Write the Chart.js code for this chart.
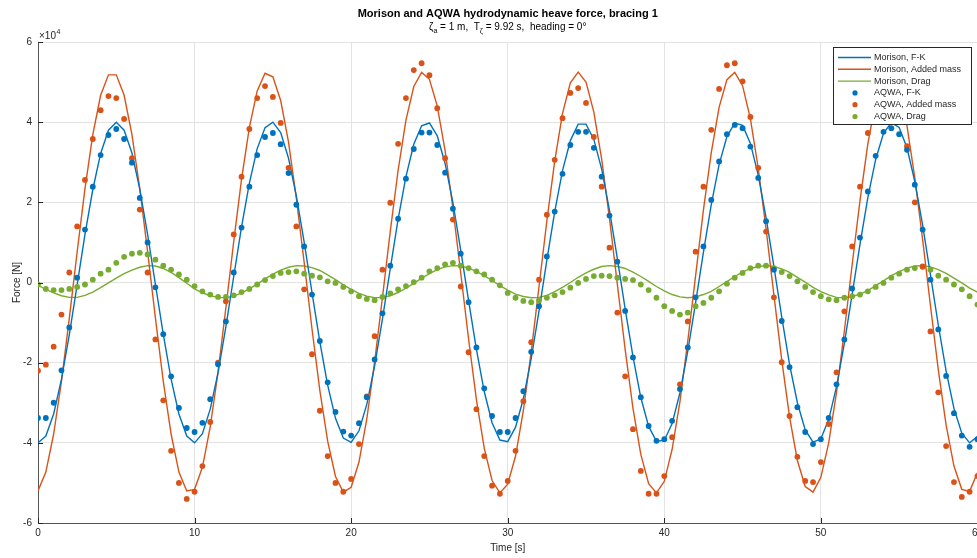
<!DOCTYPE html>
<html>
<head>
<meta charset="utf-8">
<script src="https://cdn.jsdelivr.net/npm/chart.js@4.4.1/dist/chart.umd.min.js"></script>
<style>
  html, body { margin: 0; padding: 0; background: #fff; overflow: hidden; }
  #wrap { position: relative; width: 987px; height: 558px; }
</style>
</head>
<body>
<div id="wrap"><canvas id="heaveChart"></canvas></div>
<script>
// time [s], sampled every 0.5 s
const time = [
  0, 0.5, 1, 1.5, 2, 2.5, 3, 3.5, 4, 4.5, 5, 5.5, 6, 6.5, 7, 7.5, 8, 8.5, 9, 9.5,
  10, 10.5, 11, 11.5, 12, 12.5, 13, 13.5, 14, 14.5, 15, 15.5, 16, 16.5, 17, 17.5, 18, 18.5, 19, 19.5,
  20, 20.5, 21, 21.5, 22, 22.5, 23, 23.5, 24, 24.5, 25, 25.5, 26, 26.5, 27, 27.5, 28, 28.5, 29, 29.5,
  30, 30.5, 31, 31.5, 32, 32.5, 33, 33.5, 34, 34.5, 35, 35.5, 36, 36.5, 37, 37.5, 38, 38.5, 39, 39.5,
  40, 40.5, 41, 41.5, 42, 42.5, 43, 43.5, 44, 44.5, 45, 45.5, 46, 46.5, 47, 47.5, 48, 48.5, 49, 49.5,
  50, 50.5, 51, 51.5, 52, 52.5, 53, 53.5, 54, 54.5, 55, 55.5, 56, 56.5, 57, 57.5, 58, 58.5, 59, 59.5,
  60
];

// forces in units of 1e4 N
const morisonFK = [
  -4.00, -3.83, -3.28, -2.41, -1.30, -0.06, 1.20, 2.32, 3.22, 3.80,
  4.00, 3.80, 3.23, 2.33, 1.20, -0.05, -1.29, -2.41, -3.28, -3.83,
  -4.00, -3.77, -3.16, -2.25, -1.10, 0.15, 1.39, 2.48, 3.34, 3.86,
  4.00, 3.74, 3.10, 2.16, 1.01, -0.25, -1.48, -2.56, -3.39, -3.88,
  -3.99, -3.70, -3.04, -2.08, -0.91, 0.35, 1.58, 2.64, 3.45, 3.91,
  3.98, 3.66, 2.97, 1.99, 0.80, -0.45, -1.67, -2.72, -3.50, -3.93,
  -3.97, -3.61, -2.90, -1.90, -0.71, 0.56, 1.76, 2.79, 3.54, 3.95,
  3.95, 3.57, 2.83, 1.80, 0.60, -0.66, -1.85, -2.87, -3.59, -3.96,
  -3.94, -3.52, -2.75, -1.71, -0.50, 0.76, 1.94, 2.94, 3.64, 3.98,
  3.92, 3.47, 2.68, 1.62, 0.40, -0.86, -2.04, -3.00, -3.68, -3.98,
  -3.90, -3.42, -2.60, -1.52, -0.29, 0.96, 2.12, 3.07, 3.72, 3.99,
  3.87, 3.36, 2.52, 1.43, 0.19, -1.06, -2.21, -3.14, -3.76, -4.00,
  -3.84
];

const morisonAddedMass = [
  -5.20, -4.73, -3.78, -2.46, -0.89, 0.76, 2.34, 3.69, 4.67, 5.18,
  5.18, 4.67, 3.69, 2.34, 0.77, -0.89, -2.46, -3.78, -4.73, -5.20,
  -5.16, -4.61, -3.60, -2.23, -0.63, 1.02, 2.58, 3.87, 4.78, 5.22,
  5.13, 4.54, 3.50, 2.10, 0.50, -1.16, -2.69, -3.96, -4.84, -5.23,
  -5.11, -4.48, -3.40, -1.98, -0.37, 1.28, 2.80, 4.05, 4.89, 5.24,
  5.07, 4.40, 3.29, 1.85, 0.23, -1.41, -2.92, -4.13, -4.94, -5.25,
  -5.03, -4.33, -3.19, -1.73, -0.10, 1.54, 3.02, 4.22, 4.98, 5.25,
  5.00, 4.25, 3.08, 1.60, -0.04, -1.67, -3.14, -4.29, -5.02, -5.25,
  -4.96, -4.16, -2.97, -1.46, 0.17, 1.81, 3.24, 4.37, 5.06, 5.24,
  4.91, 4.08, 2.85, 1.34, -0.31, -1.93, -3.35, -4.44, -5.09, -5.23,
  -4.86, -4.00, -2.74, -1.21, 0.45, 2.05, 3.46, 4.52, 5.12, 5.22,
  4.80, 3.91, 2.61, 1.07, -0.58, -2.18, -3.56, -4.58, -5.16, -5.21,
  -4.75
];

const morisonDrag = [
  -0.07, -0.17, -0.26, -0.33, -0.37, -0.37, -0.32, -0.24, -0.13, -0.01,
  0.11, 0.22, 0.31, 0.38, 0.42, 0.41, 0.35, 0.25, 0.12, -0.02,
  -0.16, -0.26, -0.33, -0.37, -0.38, -0.34, -0.26, -0.16, -0.04, 0.09,
  0.21, 0.31, 0.38, 0.42, 0.41, 0.37, 0.30, 0.19, 0.07, -0.06,
  -0.17, -0.27, -0.34, -0.38, -0.37, -0.33, -0.25, -0.14, -0.02, 0.11,
  0.22, 0.32, 0.39, 0.42, 0.41, 0.36, 0.28, 0.17, 0.05, -0.08,
  -0.19, -0.29, -0.35, -0.38, -0.37, -0.32, -0.23, -0.12, 0.00, 0.13,
  0.24, 0.33, 0.40, 0.42, 0.40, 0.35, 0.26, 0.15, 0.03, -0.10,
  -0.21, -0.30, -0.36, -0.38, -0.36, -0.30, -0.22, -0.10, 0.02, 0.15,
  0.26, 0.35, 0.40, 0.42, 0.40, 0.34, 0.25, 0.13, 0.01, -0.12,
  -0.23, -0.31, -0.37, -0.38, -0.35, -0.29, -0.20, -0.08, 0.04, 0.17,
  0.27, 0.36, 0.41, 0.42, 0.39, 0.32, 0.23, 0.11, -0.01, -0.14,
  -0.24
];

const aqwaFK = [
  -3.38, -3.38, -3.00, -2.19, -1.12, 0.12, 1.32, 2.39, 3.18, 3.68,
  3.83, 3.58, 2.99, 2.11, 1.00, -0.12, -1.29, -2.34, -3.13, -3.63,
  -3.73, -3.50, -2.91, -2.04, -0.97, 0.25, 1.37, 2.39, 3.18, 3.63,
  3.73, 3.45, 2.73, 1.94, 0.90, -0.30, -1.46, -2.49, -3.23, -3.72,
  -3.82, -3.51, -2.86, -1.92, -0.77, 0.42, 1.59, 2.59, 3.33, 3.74,
  3.74, 3.43, 2.74, 1.84, 0.72, -0.49, -1.62, -2.64, -3.33, -3.73,
  -3.73, -3.38, -2.71, -1.73, -0.59, 0.65, 1.77, 2.71, 3.43, 3.76,
  3.76, 3.36, 2.64, 1.67, 0.52, -0.71, -1.87, -2.86, -3.58, -3.95,
  -3.91, -3.45, -2.66, -1.62, -0.37, 0.90, 2.06, 3.02, 3.70, 3.93,
  3.85, 3.39, 2.61, 1.53, 0.32, -0.96, -2.11, -3.11, -3.73, -4.03,
  -3.91, -3.38, -2.54, -1.42, -0.15, 1.12, 2.27, 3.16, 3.76, 3.85,
  3.70, 3.31, 2.44, 1.32, 0.07, -1.17, -2.33, -3.26, -3.82, -4.10,
  -3.91
];

const aqwaAddedMass = [
  -2.20, -2.05, -1.60, -0.80, 0.25, 1.40, 2.56, 3.58, 4.30, 4.65,
  4.60, 4.08, 3.10, 1.82, 0.25, -1.42, -2.94, -4.20, -5.00, -5.40,
  -5.22, -4.58, -3.48, -2.00, -0.47, 1.20, 2.64, 3.83, 4.60, 4.90,
  4.63, 3.98, 2.86, 1.40, -0.17, -1.79, -3.20, -4.33, -5.00, -5.22,
  -4.90, -4.03, -2.84, -1.34, 0.32, 1.99, 3.46, 4.60, 5.30, 5.47,
  5.17, 4.35, 3.10, 1.57, -0.10, -1.74, -3.16, -4.33, -5.07, -5.27,
  -4.95, -4.20, -2.96, -1.49, 0.07, 1.69, 3.06, 4.10, 4.73, 4.85,
  4.48, 3.63, 2.39, 0.87, -0.75, -2.34, -3.66, -4.70, -5.27, -5.27,
  -4.83, -3.86, -2.54, -0.97, 0.77, 2.39, 3.81, 4.83, 5.42, 5.47,
  5.02, 4.13, 2.86, 1.27, -0.37, -1.99, -3.33, -4.35, -4.95, -4.98,
  -4.48, -3.53, -2.24, -0.72, 0.90, 2.39, 3.73, 4.65, 5.15, 5.15,
  4.55, 3.40, 2.00, 0.40, -1.22, -2.74, -4.08, -4.98, -5.35, -5.22,
  -4.83
];

const aqwaDrag = [
  -0.05, -0.16, -0.19, -0.19, -0.16, -0.11, -0.05, 0.07, 0.22, 0.32,
  0.49, 0.64, 0.72, 0.74, 0.70, 0.57, 0.42, 0.32, 0.20, 0.07,
  -0.09, -0.22, -0.30, -0.36, -0.36, -0.32, -0.24, -0.16, -0.05, 0.06,
  0.16, 0.24, 0.26, 0.28, 0.22, 0.17, 0.13, 0.03, -0.01, -0.11,
  -0.22, -0.34, -0.41, -0.44, -0.36, -0.27, -0.17, -0.09, 0.01, 0.12,
  0.28, 0.36, 0.45, 0.49, 0.42, 0.36, 0.28, 0.20, 0.07, -0.07,
  -0.26, -0.38, -0.46, -0.49, -0.44, -0.38, -0.32, -0.24, -0.13, -0.01,
  0.09, 0.16, 0.17, 0.16, 0.12, 0.09, 0.06, -0.05, -0.19, -0.38,
  -0.59, -0.71, -0.80, -0.75, -0.59, -0.51, -0.38, -0.22, -0.03, 0.12,
  0.24, 0.36, 0.42, 0.42, 0.36, 0.26, 0.16, 0.03, -0.11, -0.24,
  -0.34, -0.42, -0.44, -0.38, -0.34, -0.30, -0.22, -0.11, -0.01, 0.12,
  0.22, 0.32, 0.36, 0.39, 0.32, 0.17, 0.07, -0.05, -0.17, -0.34,
  -0.55
];

const xTicks = [0, 10, 20, 30, 40, 50, 60];
const yTicks = [-6, -4, -2, 0, 2, 4, 6];

const blue = 'rgb(0, 114, 189)';
const orange = 'rgb(217, 83, 25)';
const green = 'rgb(119, 172, 48)';
const axisColor = '#262626';
const fontFamily = '"Liberation Sans", Arial, Helvetica, sans-serif';

function points(values) {
  return values.map((v, i) => ({ x: time[i], y: v }));
}

function lineSet(label, values, color) {
  return {
    label: label,
    data: points(values),
    borderColor: color,
    backgroundColor: color,
    borderWidth: 1.4,
    pointRadius: 0,
    tension: 0,
    order: 1
  };
}

function dotSet(label, values, color) {
  return {
    label: label,
    data: points(values),
    showLine: false,
    borderColor: color,
    backgroundColor: color,
    pointRadius: 2.9,
    pointBorderWidth: 0,
    order: 0
  };
}

const data = {
  datasets: [
    lineSet('Morison, F-K', morisonFK, blue),
    lineSet('Morison, Added mass', morisonAddedMass, orange),
    lineSet('Morison, Drag', morisonDrag, green),
    dotSet('AQWA, F-K', aqwaFK, blue),
    dotSet('AQWA, Added mass', aqwaAddedMass, orange),
    dotSet('AQWA, Drag', aqwaDrag, green)
  ]
};

// titles, exponent label, inward ticks and the boxed legend
const decor = {
  id: 'decor',
  afterDraw(chart) {
    const { ctx, chartArea: a, scales: { x, y } } = chart;
    ctx.save();

    ctx.strokeStyle = axisColor;
    ctx.lineWidth = 1;
    ctx.beginPath();
    xTicks.forEach(v => {
      const px = Math.round(x.getPixelForValue(v)) + 0.5;
      ctx.moveTo(px, a.bottom);
      ctx.lineTo(px, a.bottom - 5);
    });
    yTicks.forEach(v => {
      const py = Math.round(y.getPixelForValue(v)) + 0.5;
      ctx.moveTo(a.left, py);
      ctx.lineTo(a.left + 5, py);
    });
    ctx.stroke();

    // x10^4 multiplier
    ctx.fillStyle = axisColor;
    ctx.textBaseline = 'alphabetic';
    ctx.textAlign = 'left';
    ctx.font = '10px ' + fontFamily;
    ctx.fillText('\u00d710', a.left + 1, a.top - 3);
    const w10 = ctx.measureText('\u00d710').width;
    ctx.font = '7px ' + fontFamily;
    ctx.fillText('4', a.left + 1 + w10 + 0.5, a.top - 8);

    // title and subtitle
    const cx = (a.left + a.right) / 2;
    ctx.textAlign = 'center';
    ctx.textBaseline = 'middle';
    ctx.fillStyle = '#000';
    ctx.font = 'bold 11px ' + fontFamily;
    ctx.fillText('Morison and AQWA hydrodynamic heave force, bracing 1', cx, 14);

    const parts = [
      ['\u03b6', 0], ['a', 1], [' = 1 m,  T', 0], ['\u03b6', 1],
      [' = 9.92 s,  heading = 0\u00b0', 0]
    ];
    const big = '10px ' + fontFamily;
    const small = '7px ' + fontFamily;
    let total = 0;
    parts.forEach(p => { ctx.font = p[1] ? small : big; total += ctx.measureText(p[0]).width; });
    let sx = cx - total / 2;
    ctx.textAlign = 'left';
    parts.forEach(p => {
      ctx.font = p[1] ? small : big;
      ctx.fillText(p[0], sx, p[1] ? 31 : 27);
      sx += ctx.measureText(p[0]).width;
    });

    // legend
    const lx = 833, ly = 47, lw = 138, lh = 77;
    ctx.fillStyle = '#fff';
    ctx.fillRect(lx, ly, lw, lh);
    ctx.strokeStyle = axisColor;
    ctx.lineWidth = 1;
    ctx.strokeRect(lx + 0.5, ly + 0.5, lw, lh);
    ctx.font = '9px ' + fontFamily;
    ctx.textBaseline = 'middle';
    chart.data.datasets.forEach((ds, i) => {
      const ry = ly + 10.5 + i * 11.8;
      if (ds.showLine === false) {
        ctx.fillStyle = ds.backgroundColor;
        ctx.beginPath();
        ctx.arc(855, ry, 2.6, 0, Math.PI * 2);
        ctx.fill();
      } else {
        ctx.strokeStyle = ds.borderColor;
        ctx.lineWidth = 1.4;
        ctx.beginPath();
        ctx.moveTo(838, ry);
        ctx.lineTo(871, ry);
        ctx.stroke();
      }
      ctx.fillStyle = axisColor;
      ctx.fillText(ds.label, 874, ry);
    });
    ctx.restore();
  }
};

const config = {
  type: 'line',
  data: data,
  options: {
    responsive: true,
    maintainAspectRatio: false,
    animation: false,
    layout: { padding: { top: 42, right: 0, left: 0, bottom: 0 } },
    plugins: {
      legend: { display: false },
      title: { display: false },
      tooltip: { enabled: false }
    },
    scales: {
      x: {
        type: 'linear',
        min: 0,
        max: 60,
        afterFit(scale) { scale.height = 35; },
        ticks: {
          stepSize: 10,
          maxRotation: 0,
          padding: 4,
          color: axisColor,
          font: { family: fontFamily, size: 10 }
        },
        grid: { color: '#e3e3e3', drawTicks: false },
        border: { color: '#555' },
        title: {
          display: true,
          text: 'Time [s]',
          color: axisColor,
          font: { family: fontFamily, size: 10 },
          padding: { top: 0, bottom: 4 }
        }
      },
      y: {
        min: -6,
        max: 6,
        afterFit(scale) { scale.width = 38; },
        ticks: {
          stepSize: 2,
          padding: 6,
          color: axisColor,
          font: { family: fontFamily, size: 10 }
        },
        grid: { color: '#e3e3e3', drawTicks: false },
        border: { color: '#555' },
        title: {
          display: true,
          text: 'Force [N]',
          color: axisColor,
          font: { family: fontFamily, size: 10 },
          padding: { top: 11, bottom: 0 }
        }
      }
    }
  },
  plugins: [decor]
};

new Chart(
  document.getElementById('heaveChart'),
  config
);
</script>
</body>
</html>
